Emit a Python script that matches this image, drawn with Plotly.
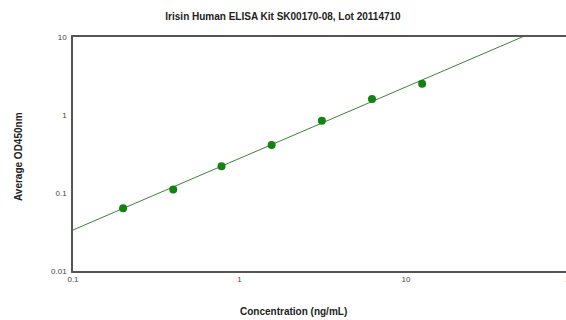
import numpy as np
import plotly.graph_objects as go

# Data
conc = [0.2, 0.4, 0.78, 1.56, 3.125, 6.25, 12.5]
od = [0.0637, 0.111, 0.22, 0.412, 0.845, 1.60, 2.52]

# Linear fit in log-log space
fit_slope = 0.917
fit_log_y_at_0p1 = -1.474

x_ticks = [0.1, 1, 10]
x_tick_text = ["0.1", "1", "10"]
x_edge_tick = 100
x_edge_tick_text = "100"
y_ticks = [0.01, 0.1, 1, 10]
y_tick_text = ["0.01", "0.1", "1", "10"]

title = "Irisin Human ELISA Kit SK00170-08, Lot 20114710"
x_title = "Concentration (ng/mL)"
y_title = "Average OD450nm"

FONT = "Liberation Sans, Arial, sans-serif"
TICKFONT = dict(family=FONT, size=8, color="#444444")

X_RANGE = [-1, 1.961]

fit_x = np.logspace(-1, 2, 60)
fit_y = 10 ** (fit_log_y_at_0p1 + fit_slope * (np.log10(fit_x) + 1))

fig = go.Figure()
fig.add_trace(go.Scatter(x=fit_x, y=fit_y, mode="lines",
                         line=dict(color="#3f7f3f", width=1), hoverinfo="skip",
                         showlegend=False))
fig.add_trace(go.Scatter(x=conc, y=od, mode="markers",
                         marker=dict(color="#128212", size=8),
                         showlegend=False))

axis_common = dict(showgrid=False, zeroline=False, ticks="", tickfont=TICKFONT)

fig.update_xaxes(type="log", range=X_RANGE, tickvals=x_ticks, ticktext=x_tick_text,
                 showline=True, linecolor="#555555", linewidth=1.5, mirror=True,
                 ticklabelstandoff=0, **axis_common)
fig.update_yaxes(type="log", range=[-2, 1], tickvals=y_ticks, ticktext=y_tick_text,
                 showline=True, linecolor="#555555", linewidth=1.5,
                 ticklabelstandoff=3, **axis_common)

# paper position of the clipped "100" tick (beyond the right edge of the range)
edge_paper_x = (np.log10(x_edge_tick) - X_RANGE[0]) / (X_RANGE[1] - X_RANGE[0])

fig.update_layout(
    width=566, height=320,
    margin=dict(l=73, r=0, t=37, b=49),
    paper_bgcolor="white", plot_bgcolor="white",
    font=dict(family=FONT),
    title=dict(text="<b>" + title + "</b>", x=0.5, xanchor="center",
               y=1 - 16 / 320, yanchor="middle",
               font=dict(family=FONT, size=10, color="#222222")),
    annotations=[
        dict(text="<b>" + x_title + "</b>", xref="paper", yref="paper",
             x=(293 - 73) / 493, y=-(311 - 271) / 234, xanchor="center", yanchor="middle",
             showarrow=False, font=dict(family=FONT, size=10, color="#222222")),
        dict(text="<b>" + y_title + "</b>", xref="paper", yref="paper",
             x=-(73 - 18) / 493, y=(271 - 157) / 234, xanchor="center", yanchor="middle",
             textangle=-90, showarrow=False,
             font=dict(family=FONT, size=10, color="#222222")),
        dict(text=x_edge_tick_text, xref="paper", yref="paper",
             x=edge_paper_x, y=-(279 - 271) / 234, xanchor="center",
             yanchor="middle", showarrow=False, font=TICKFONT),
    ],
)

fig.write_html(
    "out.html",
    config={"displayModeBar": False},
    post_script="document.body.style.margin='0';document.body.style.overflow='hidden';",
)
